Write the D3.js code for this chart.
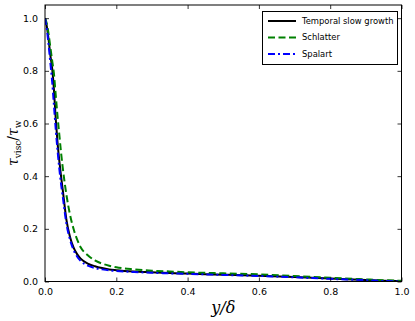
<!DOCTYPE html>
<html>

<head>
    <meta charset="UTF-8">
    <style>
        body { margin: 0; background: #fff; }
        svg { display: block; }
        .tick text { font-family: "DejaVu Sans", sans-serif; font-size: 9.5px; fill: #000; }
        .legend text { font-family: "DejaVu Sans", sans-serif; font-size: 8.4px; }
    </style>
</head>

<body>
    <svg></svg>
    <script src="https://d3js.org/d3.v7.min.js"></script>

    <script>

        let width = 415, height = 321;

        // y/delta positions
        const yDelta = [0, 0.005, 0.01, 0.015, 0.02, 0.025, 0.03, 0.035, 0.04, 0.045, 0.05, 0.06, 0.07, 0.08, 0.09, 0.1,
            0.12, 0.14, 0.16, 0.18, 0.2, 0.25, 0.3, 0.35, 0.4, 0.5, 0.6, 0.7, 0.8, 0.9, 0.95, 1.0];

        // tau_visc / tau_w for each source
        const temporal = [1.0, 0.97, 0.92, 0.86, 0.81, 0.73, 0.62, 0.53, 0.46, 0.40, 0.345, 0.235, 0.17, 0.13, 0.104, 0.087,
            0.068, 0.058, 0.051, 0.046, 0.043, 0.038, 0.035, 0.032, 0.030, 0.026, 0.022, 0.017, 0.011, 0.006, 0.003, 0.001];
        const schlatter = [1.0, 0.98, 0.94, 0.89, 0.84, 0.79, 0.71, 0.63, 0.56, 0.49, 0.43, 0.33, 0.255, 0.20, 0.16, 0.13,
            0.10, 0.08, 0.068, 0.06, 0.054, 0.046, 0.041, 0.038, 0.035, 0.031, 0.027, 0.021, 0.014, 0.008, 0.005, 0.003];
        const spalart = [1.0, 0.96, 0.90, 0.83, 0.76, 0.67, 0.58, 0.50, 0.43, 0.37, 0.32, 0.22, 0.16, 0.12, 0.095, 0.078,
            0.060, 0.051, 0.046, 0.042, 0.040, 0.036, 0.033, 0.031, 0.029, 0.025, 0.021, 0.016, 0.010, 0.005, 0.002, 0.0];

        const seriesNames = ["Temporal slow growth", "Schlatter", "Spalart"];
        const xTicks = [0, 0.2, 0.4, 0.6, 0.8, 1.0];
        const yTicks = [0, 0.2, 0.4, 0.6, 0.8, 1.0];

        let margin = { left: 45, right: 13.5, top: 5, bottom: 39.5 };

        let svg = d3.select("svg")
            .attr("width", width)
            .attr("height", height);

        let x = d3.scaleLinear().domain([0, 1]).range([margin.left, width - margin.right]);
        let y = d3.scaleLinear().domain([0, 1.05]).range([height - margin.bottom, margin.top]);

        let series = [
            { name: seriesNames[0], values: temporal, color: "#000000", dash: null },
            { name: seriesNames[1], values: schlatter, color: "#008000", dash: "7,3.5" },
            { name: seriesNames[2], values: spalart, color: "#0000ff", dash: "7,3,2,3" }
        ];

        let line = d3.line()
            .x((d, i) => x(yDelta[i]))
            .y(d => y(d))
            .curve(d3.curveMonotoneX);

        svg.append("defs").append("clipPath").attr("id", "clip")
            .append("rect")
            .attr("x", x(0)).attr("y", y(1.05))
            .attr("width", x(1) - x(0)).attr("height", y(0) - y(1.05));

        svg.append("g")
            .attr("clip-path", "url(#clip)")
            .selectAll("path")
            .data(series)
            .join("path")
            .attr("d", d => line(d.values))
            .attr("fill", "none")
            .attr("stroke", d => d.color)
            .attr("stroke-width", 2)
            .attr("stroke-dasharray", d => d.dash);

        // axes, ticks pointing inward like matplotlib classic
        let tickLen = 4;
        svg.append("g")
            .attr("transform", `translate(0,${y(0)})`)
            .call(d3.axisBottom(x).tickValues(xTicks).tickFormat(d3.format(".1f")).tickSizeInner(-tickLen).tickSizeOuter(0).tickPadding(7));
        svg.append("g")
            .attr("transform", `translate(0,${y(1.05)})`)
            .call(d3.axisTop(x).tickValues(xTicks).tickFormat("").tickSizeInner(-tickLen).tickSizeOuter(0));
        svg.append("g")
            .attr("transform", `translate(${x(0)},0)`)
            .call(d3.axisLeft(y).tickValues(yTicks).tickFormat(d3.format(".1f")).tickSizeInner(-tickLen).tickSizeOuter(0).tickPadding(7));
        svg.append("g")
            .attr("transform", `translate(${x(1)},0)`)
            .call(d3.axisRight(y).tickValues(yTicks).tickFormat("").tickSizeInner(-tickLen).tickSizeOuter(0));

        svg.selectAll(".domain").remove();
        svg.selectAll(".tick line").attr("stroke", "#000").attr("stroke-width", 0.8);

        svg.append("rect")
            .attr("x", x(0)).attr("y", y(1.05))
            .attr("width", x(1) - x(0)).attr("height", y(0) - y(1.05))
            .attr("fill", "none")
            .attr("stroke", "#000")
            .attr("stroke-width", 1);

        // axis labels
        svg.append("text")
            .attr("x", (x(0) + x(1)) / 2)
            .attr("y", 313)
            .attr("text-anchor", "middle")
            .style("font-family", "'DejaVu Serif', serif")
            .style("font-size", "16px")
            .style("font-style", "italic")
            .text("y/δ");

        let ylab = svg.append("text")
            .attr("transform", `translate(18,${(y(0) + y(1.05)) / 2}) rotate(-90)`)
            .attr("text-anchor", "middle")
            .style("font-family", "'DejaVu Serif', serif")
            .style("font-size", "14px");
        ylab.append("tspan").style("font-style", "italic").text("τ");
        ylab.append("tspan").attr("dy", 3).style("font-size", "9px").text("visc");
        ylab.append("tspan").attr("dy", -3).text("/");
        ylab.append("tspan").style("font-style", "italic").text("τ");
        ylab.append("tspan").attr("dy", 3).style("font-size", "9px").text("w");

        // legend
        let leg = svg.append("g").attr("class", "legend");
        leg.append("rect")
            .attr("x", 262.5).attr("y", 11.5)
            .attr("width", 135).attr("height", 53)
            .attr("fill", "#fff")
            .attr("stroke", "#000")
            .attr("stroke-width", 1);
        let rows = leg.selectAll("g.row")
            .data(series)
            .join("g")
            .attr("class", "row")
            .attr("transform", (d, i) => `translate(268,${21 + i * 16.5})`);
        rows.append("line")
            .attr("x1", 0).attr("x2", 28)
            .attr("stroke", d => d.color)
            .attr("stroke-width", 2)
            .attr("stroke-dasharray", d => d.dash);
        rows.append("text")
            .attr("x", 34)
            .attr("dy", "0.35em")
            .text(d => d.name);

    </script>

</body>

</html>
